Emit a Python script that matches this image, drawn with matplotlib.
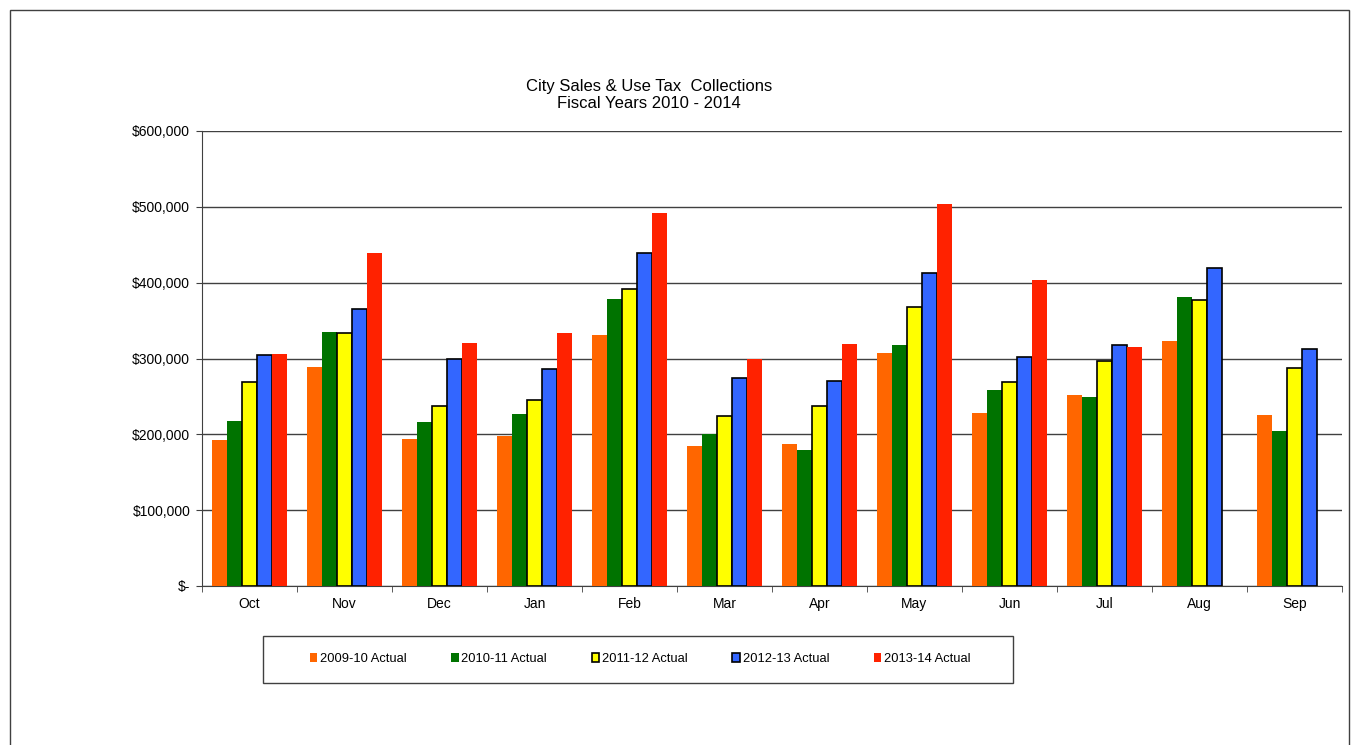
import numpy as np
import matplotlib.pyplot as plt
from matplotlib.patches import Rectangle
from matplotlib.ticker import FuncFormatter

plt.rcParams['font.family'] = ['Liberation Sans', 'DejaVu Sans']

months = ['Oct', 'Nov', 'Dec', 'Jan', 'Feb', 'Mar', 'Apr', 'May', 'Jun', 'Jul', 'Aug', 'Sep']
series_names = ['2009-10 Actual', '2010-11 Actual', '2011-12 Actual', '2012-13 Actual', '2013-14 Actual']

fy2010 = [192500, 288400, 194000, 198000, 330600, 184600, 187000, 307700, 228500, 252000, 323000, 225500]
fy2011 = [217600, 334500, 216000, 227000, 378000, 201000, 179000, 317400, 258500, 249000, 381000, 204000]
fy2012 = [269000, 333600, 237000, 245000, 392000, 224600, 237000, 367500, 268600, 297000, 377000, 287500]
fy2013 = [304600, 365700, 299000, 286000, 439500, 274300, 270000, 413000, 302400, 318000, 419000, 312500]
fy2014 = [305500, 439000, 320000, 334000, 491500, 299000, 319000, 503800, 403500, 315000, np.nan, np.nan]

series = [fy2010, fy2011, fy2012, fy2013, fy2014]
colors = ['#FF6600', '#007300', '#FFFF00', '#3366FF', '#FF2200']
edges = [None, None, 'black', 'black', None]

fig = plt.figure(figsize=(13.58, 7.45), dpi=100)
W, H = 1358, 745
ax = fig.add_axes([202 / W, 1 - 586 / H, 1140 / W, 455 / H])

x = np.arange(len(months))
bw = 0.158
handles = []
for i, (vals, c, e) in enumerate(zip(series, colors, edges)):
    kw = dict(edgecolor=e, linewidth=1.2) if e else dict(linewidth=0)
    b = ax.bar(x + (i - 2) * bw, vals, bw, color=c, zorder=3, label=series_names[i], **kw)
    handles.append(b)

ax.set_xlim(-0.5, len(months) - 0.5)
ax.set_ylim(0, 600000)
ax.set_yticks(np.arange(0, 600001, 100000))
ax.yaxis.set_major_formatter(FuncFormatter(lambda v, p: '$-' if v == 0 else f'${v:,.0f}'))
ax.yaxis.grid(True, color='#404040', linewidth=1, zorder=0)
ax.set_xticks(x)
ax.set_xticklabels(months)
ax.set_xticks(np.arange(-0.5, len(months), 1), minor=True)
ax.tick_params(axis='x', which='major', length=0, pad=8, labelsize=10)
ax.tick_params(axis='x', which='minor', length=4, color='#404040', direction='out')
ax.tick_params(axis='y', length=4, color='#404040', labelsize=10, pad=4.5)
for s in ['top', 'right']:
    ax.spines[s].set_visible(False)
for s in ['left', 'bottom']:
    ax.spines[s].set_color('#404040')

fig.text(649 / W, 1 - 86 / H, 'City Sales & Use Tax  Collections', ha='center', va='center', fontsize=12)
fig.text(649 / W, 1 - 104 / H, 'Fiscal Years 2010 - 2014', ha='center', va='center', fontsize=12)

# legend box drawn separately, entries spaced like the original
box = Rectangle((263 / W, 1 - 683 / H), 750 / W, 47 / H, transform=fig.transFigure,
                fill=False, edgecolor='#404040', linewidth=1)
fig.patches.append(box)
leg = fig.legend(handles=handles, loc='center', ncol=5,
                 bbox_to_anchor=(640 / W, 1 - 659 / H),
                 fontsize=9.3, handlelength=0.6, handleheight=0.6, handletextpad=0.2,
                 columnspacing=3.45, borderpad=0.3, borderaxespad=0, frameon=False)

frame = Rectangle((10 / W, -0.1), 1339 / W, 1.1 - 10 / H, transform=fig.transFigure,
                  fill=False, edgecolor='#404040', linewidth=1, clip_on=False)
fig.patches.append(frame)

fig.savefig('out.png', dpi=100)
